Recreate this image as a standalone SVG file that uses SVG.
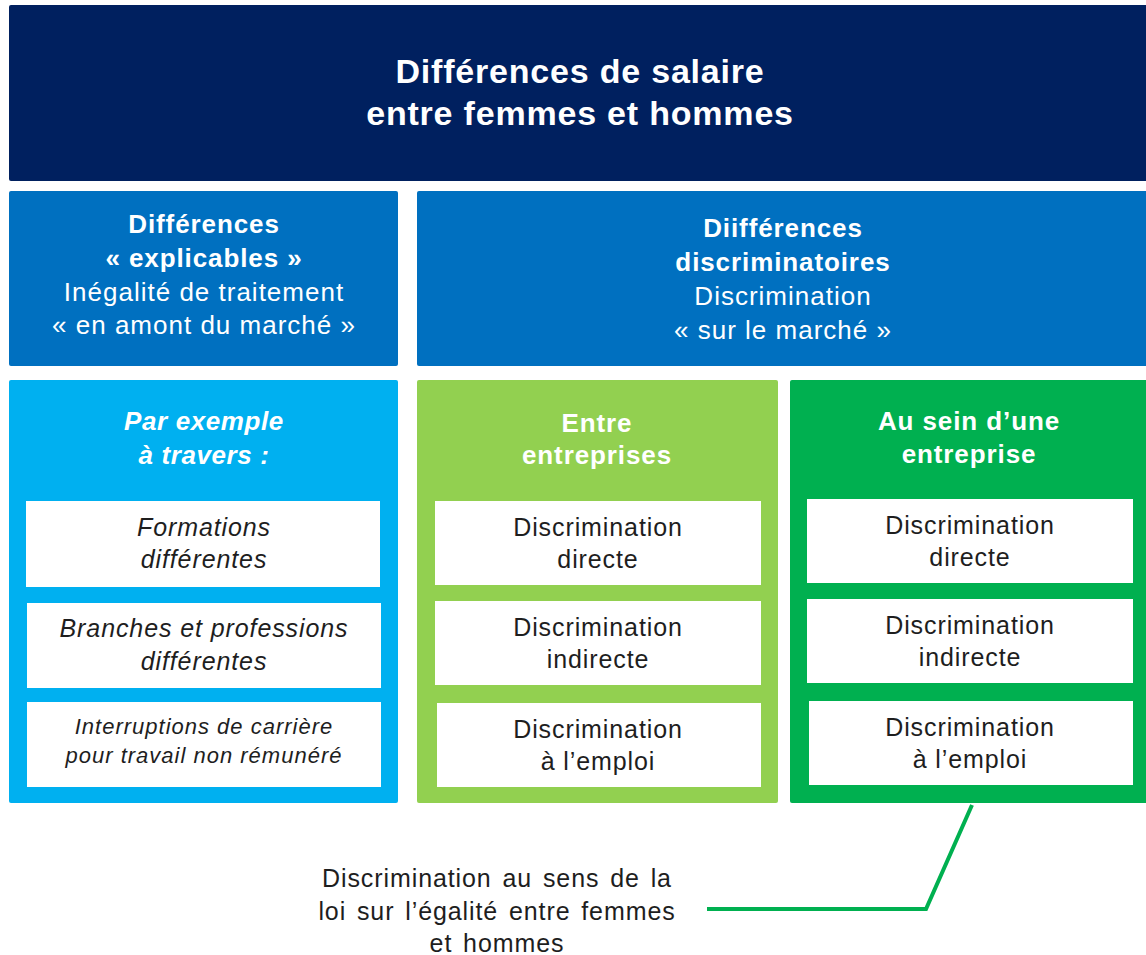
<svg xmlns="http://www.w3.org/2000/svg" width="1146" height="955" viewBox="0 0 1146 955">
<style>
text{font-family:"Liberation Sans",Arial,Helvetica,sans-serif;text-anchor:middle}
.t{font-size:34px;font-weight:bold;fill:#fff;letter-spacing:0.8px}
.hb{font-size:26px;font-weight:bold;fill:#fff;letter-spacing:0.9px}
.hbi{font-size:26px;font-weight:bold;font-style:italic;fill:#fff;letter-spacing:0.6px}
.hr{font-size:26px;fill:#fff;letter-spacing:1px}
.w{font-size:25px;fill:#1e1e1e;letter-spacing:0.9px}
.it{font-size:25px;font-style:italic;fill:#1e1e1e;letter-spacing:0.9px}
.it2{font-size:22px;font-style:italic;fill:#1e1e1e;letter-spacing:1px}
.bot{font-size:25px;fill:#1e1e1e;letter-spacing:0.9px;word-spacing:3px}
.wb{fill:#fff}
</style>
<rect width="1146" height="955" fill="#fff"/>
<g id="title">
<rect x="9" y="5" width="1145" height="176" rx="2" fill="#00205F"/>
<text class="t" x="580" y="83">Différences de salaire</text>
<text class="t" x="580" y="125">entre femmes et hommes</text>
</g>
<g id="explicables">
<rect x="9" y="191" width="389" height="175" rx="2" fill="#0070C0"/>
<text class="hb" x="204" y="233">Différences</text>
<text class="hb" x="204" y="267">« explicables »</text>
<text class="hr" x="204" y="301">Inégalité de traitement</text>
<text class="hr" x="204" y="334">« en amont du marché »</text>
</g>
<g id="discriminatoires">
<rect x="417" y="191" width="737" height="175" rx="2" fill="#0070C0"/>
<text class="hb" x="783" y="237">Diifférences</text>
<text class="hb" x="783" y="271">discriminatoires</text>
<text class="hr" x="783" y="305">Discrimination</text>
<text class="hr" x="783" y="339">« sur le marché »</text>
</g>
<g id="exemple">
<rect x="9" y="380" width="389" height="423" rx="2" fill="#00B0F0"/>
<text class="hbi" x="204" y="430">Par exemple</text>
<text class="hbi" x="204" y="464">à travers :</text>
</g>
<g id="formations">
<rect class="wb" x="26" y="501" width="354" height="86"/>
<text class="it" x="204" y="536">Formations</text>
<text class="it" x="204" y="568">différentes</text>
</g>
<g id="branches">
<rect class="wb" x="27" y="603" width="354" height="85"/>
<text class="it" x="204" y="637">Branches et professions</text>
<text class="it" x="204" y="670">différentes</text>
</g>
<g id="interruptions">
<rect class="wb" x="27" y="702" width="354" height="85"/>
<text class="it2" x="204" y="734">Interruptions de carrière</text>
<text class="it2" x="204" y="763">pour travail non rémunéré</text>
</g>
<g id="entre">
<rect x="417" y="380" width="361" height="423" rx="2" fill="#92D050"/>
<text class="hb" x="597" y="432">Entre</text>
<text class="hb" x="597" y="464">entreprises</text>
</g>
<g id="entre-directe">
<rect class="wb" x="435" y="501" width="326" height="84"/>
<text class="w" x="598" y="536">Discrimination</text>
<text class="w" x="598" y="568">directe</text>
</g>
<g id="entre-indirecte">
<rect class="wb" x="435" y="601" width="326" height="84"/>
<text class="w" x="598" y="636">Discrimination</text>
<text class="w" x="598" y="668">indirecte</text>
</g>
<g id="entre-emploi">
<rect class="wb" x="437" y="703" width="324" height="84"/>
<text class="w" x="598" y="738">Discrimination</text>
<text class="w" x="598" y="770">à l’emploi</text>
</g>
<g id="sein">
<rect x="790" y="380" width="364" height="423" rx="2" fill="#00B050"/>
<text class="hb" x="969" y="430">Au sein d’une</text>
<text class="hb" x="969" y="463">entreprise</text>
</g>
<g id="sein-directe">
<rect class="wb" x="807" y="499" width="326" height="84"/>
<text class="w" x="970" y="534">Discrimination</text>
<text class="w" x="970" y="566">directe</text>
</g>
<g id="sein-indirecte">
<rect class="wb" x="807" y="599" width="326" height="84"/>
<text class="w" x="970" y="634">Discrimination</text>
<text class="w" x="970" y="666">indirecte</text>
</g>
<g id="sein-emploi">
<rect class="wb" x="809" y="701" width="324" height="84"/>
<text class="w" x="970" y="736">Discrimination</text>
<text class="w" x="970" y="768">à l’emploi</text>
</g>
<g id="connectors">
<polyline points="972,805 926,909 707,909" fill="none" stroke="#00B050" stroke-width="4"/>
</g>
<g id="note">
<text class="bot" x="497" y="887">Discrimination au sens de la</text>
<text class="bot" x="497" y="920">loi sur l’égalité entre femmes</text>
<text class="bot" x="497" y="952">et hommes</text>
</g>
</svg>
